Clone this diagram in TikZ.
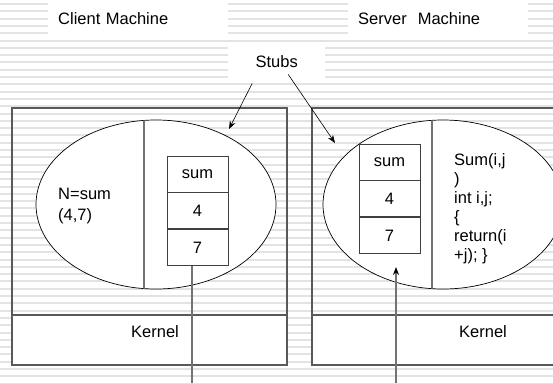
\documentclass[tikz,border=0pt]{standalone}
\usepackage{fontspec}
\setmainfont{Liberation Sans}
\usetikzlibrary{arrows.meta,positioning,shapes.geometric}
\tikzset{
  title box/.style={fill=white, inner ysep=0pt, inner xsep=10pt, text width=160pt, minimum height=36pt},
  slot/.style={draw=black!75, line width=0.8pt, fill=white, minimum width=61pt, minimum height=36pt, inner sep=0pt},
  stub/.style={draw=black, line width=0.7pt, fill=white, ellipse, minimum width=240pt, minimum height=169pt, inner sep=0pt},
  frame/.style={draw=black!65, line width=1.2pt},
  wire/.style={draw=black!55, line width=1.3pt},
  pointer/.style={-{Stealth[length=8pt,width=6pt,black]}, line width=0.6pt},
}
\begin{document}
\begin{tikzpicture}[x=1pt, y=-1pt, font=\fontsize{16.5}{19}\selectfont]
    \useasboundingbox (0,0) rectangle (553,383);
    \clip (0,0) rectangle (553,383);
    % Striped background
    \foreach \k in {0,...,52}
        \draw[gray!22, line width=2pt] (0,4+7.3*\k) -- (553,4+7.3*\k);

    % Titles
    \node[title box, anchor=north west] (client) at (48,0) {Client Machine};
    \node[title box, anchor=north west] (server) at (348,0) {Server~ Machine};
    \node[fill=white, inner sep=0pt, minimum width=97pt, minimum height=34pt, anchor=north west] (stubs) at (228,44) {Stubs};

    % Client machine
    \draw[frame] (12,108) rectangle (287,365);
    \draw[frame, fill=white] (12,315) rectangle (287,365);
    \node[stub] (cellL) at (156,204.5) {};
    \begin{scope}
        \clip (156,204.5) ellipse (120 and 84.5);
        \draw[wire] (144,100) -- (144,300);
    \end{scope}
    \node[slot] (lsum) at (197.5,174) {sum};
    \node[slot, below=0pt of lsum] (l4) {4};
    \node[slot, below=0pt of l4] (l7) {7};
    \node[anchor=west, align=left, inner sep=0pt, font=\fontsize{16.5}{21}\selectfont] (call) at (58,206.5) {N=sum\\(4,7)};
    \node (kernL) at (155,332) {Kernel};

    % Server machine
    \draw[frame] (312,108) rectangle (580,365);
    \draw[frame, fill=white] (312,315) rectangle (580,365);
    \node[stub] (cellR) at (443,204.5) {};
    \begin{scope}
        \clip (443,204.5) ellipse (120 and 84.5);
        \draw[wire] (432,100) -- (432,300);
    \end{scope}
    \node[slot] (rsum) at (389.5,162) {sum};
    \node[slot, below=0pt of rsum] (r4) {4};
    \node[slot, below=0pt of r4] (r7) {7};
    \node[anchor=north west, align=left, inner sep=0pt] (body) at (454,153) {Sum(i,j\\)\\int i,j;\\\{\\return(i\\+j); \}};
    \node (kernR) at (483,332) {Kernel};

    % Wires to the network
    \coordinate (wireL) at (192,383);
    \draw[wire] (wireL |- l7.south) -- (wireL);
    \coordinate (wireR) at (396,383);
    \coordinate (tipR) at (396,267);
    \draw[pointer, wire] (wireR) -- (tipR);

    % Stubs arrows
    \coordinate (stubL) at (229,129);
    \coordinate (stubR) at (335,143);
    \draw[pointer] ([xshift=-24.5pt,yshift=-5pt]stubs.south) -- (stubL);
    \draw[pointer] ([xshift=11.5pt,yshift=4pt]stubs.south) -- (stubR);
\end{tikzpicture}
\end{document}
